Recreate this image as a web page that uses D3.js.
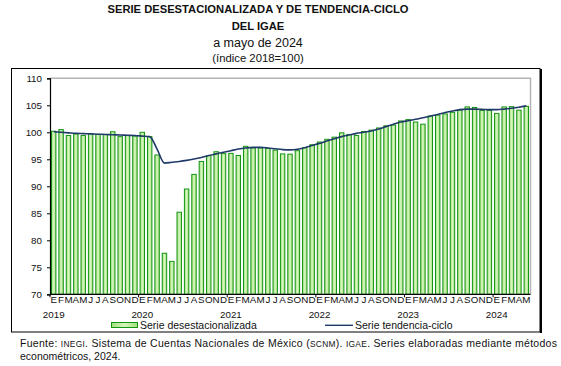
<!DOCTYPE html>
<html>
<head>
<meta charset="utf-8">
<script src="https://cdn.jsdelivr.net/npm/d3@7"></script>
<style>
  body { margin: 0; background: #fff; }
  svg { font-family: "Liberation Sans", Arial, sans-serif; }
</style>
</head>
<body>
<svg id="chart" width="561" height="366"></svg>
<script>
const monthLetters = ["E","F","M","A","M","J","J","A","S","O","N","D"];
const years = ["2019","2020","2021","2022","2023","2024"];

// serie desestacionalizada, ene 2019 - may 2024
const desest = [
  100.2, 100.5, 99.4, 99.7, 99.4, 99.75, 99.6, 99.6, 100.1, 99.2, 99.4, 99.3,
  100.0, 99.2, 95.8, 77.6, 76.1, 85.2, 89.5, 92.2, 94.6, 95.7, 96.4, 96.05,
  96.1, 95.7, 97.4, 97.1, 97.1, 97.0, 96.7, 96.0, 95.95, 96.6, 97.15, 97.7,
  98.2, 98.7, 99.1, 99.9, 99.6, 99.4, 100.15, 100.4, 100.8, 101.2, 101.35, 102.1,
  102.35, 101.9, 101.5, 103.0, 103.2, 103.4, 103.7, 104.1, 104.7, 104.6, 104.05, 104.05,
  103.5, 104.7, 104.75, 104.1, 104.8
];

// serie tendencia-ciclo
const tendencia = [
  100.1, 100.0, 99.9, 99.8, 99.75, 99.7, 99.65, 99.6, 99.55, 99.5, 99.45, 99.4,
  99.3, 99.2, 96.9, 94.3, 94.45, 94.6, 94.8, 95.05, 95.35, 95.7, 96.0, 96.3,
  96.6, 96.9, 97.1, 97.2, 97.2, 97.1, 96.95, 96.8, 96.75, 96.85, 97.15, 97.55,
  97.95, 98.4, 98.8, 99.2, 99.5, 99.8, 100.0, 100.25, 100.6, 101.05, 101.5, 101.9,
  102.15, 102.4, 102.7, 103.0, 103.3, 103.65, 103.95, 104.2, 104.3, 104.3, 104.25, 104.2,
  104.2, 104.3, 104.45, 104.65, 104.9
];

const yTicks = [70, 75, 80, 85, 90, 95, 100, 105, 110];

const svg = d3.select('#chart');
const idx = d3.range(desest.length);

const x = d3.scaleBand()
      .domain(idx)
      .range([50, 530])
      .paddingInner(0.4)
      .paddingOuter(0.2);
const step = x.step();
const y = d3.scaleLinear().domain([70, 110]).range([294.3, 78.3]);

const defs = svg.append('defs');
const grad = defs.append('linearGradient').attr('id', 'barfill')
      .attr('x1', '0%').attr('x2', '100%').attr('y1', '0%').attr('y2', '0%');
grad.append('stop').attr('offset', '0%').attr('stop-color', '#9fe07c');
grad.append('stop').attr('offset', '50%').attr('stop-color', '#d6f6bf');
grad.append('stop').attr('offset', '100%').attr('stop-color', '#9fe07c');

// titles
const titles = [
  {t: "SERIE DESESTACIONALIZADA Y DE TENDENCIA-CICLO", y: 13.3, s: 11.2, w: "bold"},
  {t: "DEL IGAE", y: 30, s: 11.2, w: "bold"},
  {t: "a mayo de 2024", y: 46.7, s: 12.5, w: "normal"},
  {t: "(índice 2018=100)", y: 61.5, s: 11.3, w: "normal"}
];
svg.selectAll('text.title')
  .data(titles)
  .enter().append('text')
  .attr('class', 'title')
  .attr('x', 258)
  .attr('y', d => d.y)
  .attr('text-anchor', 'middle')
  .attr('font-size', d => d.s)
  .attr('font-weight', d => d.w)
  .attr('fill', '#111')
  .text(d => d.t);

// outer frame
svg.append('rect')
  .attr('x', 11.5).attr('y', 68.5)
  .attr('width', 528.5).attr('height', 263.5)
  .attr('fill', 'none').attr('stroke', '#000').attr('stroke-width', 1);
svg.append('line')
  .attr('x1', 541).attr('x2', 541).attr('y1', 69).attr('y2', 333)
  .attr('stroke', '#000').attr('stroke-width', 2);

// plot frame (gray top/right)
svg.append('path')
  .attr('d', `M50,${y(110)}H530.5V${y(70)}`)
  .attr('fill', 'none').attr('stroke', '#b4b4b4').attr('stroke-width', 1.5);

// bars
svg.selectAll('rect.bar')
  .data(desest)
  .enter().append('rect')
  .attr('class', 'bar')
  .attr('x', (d, i) => x(i))
  .attr('width', x.bandwidth())
  .attr('y', d => y(d))
  .attr('height', d => y(70) - y(d))
  .attr('fill', 'url(#barfill)')
  .attr('stroke', '#139413')
  .attr('stroke-width', 1);

// trend line
const line = d3.line()
  .x((d, i) => x(i) + x.bandwidth() / 2)
  .y(d => y(d))
  .curve(d3.curveMonotoneX);
svg.append('path')
  .datum(tendencia)
  .attr('d', line)
  .attr('fill', 'none')
  .attr('stroke', '#1f3a68')
  .attr('stroke-width', 1.6);

// y axis
const yAxis = d3.axisLeft(y).tickValues(yTicks).tickSize(3).tickPadding(5);
const gy = svg.append('g').attr('transform', 'translate(50,0)').call(yAxis);
gy.select('.domain').attr('stroke', '#000').attr('stroke-width', 1.2);
gy.selectAll('line').attr('stroke', '#000');
gy.selectAll('text').attr('font-size', 9.8).attr('fill', '#111')
  .attr('font-family', '"Liberation Sans", Arial, sans-serif');

// x axis line + year ticks
svg.append('line')
  .attr('x1', 50).attr('x2', 530.5).attr('y1', y(70)).attr('y2', y(70))
  .attr('stroke', '#000').attr('stroke-width', 1.2);
svg.selectAll('line.ytick')
  .data(years)
  .enter().append('line')
  .attr('class', 'ytick')
  .attr('x1', (d, k) => 50 + k * 12 * step)
  .attr('x2', (d, k) => 50 + k * 12 * step)
  .attr('y1', y(70)).attr('y2', y(70) + 3)
  .attr('stroke', '#000');

// month letters
svg.selectAll('text.month')
  .data(idx)
  .enter().append('text')
  .attr('class', 'month')
  .attr('x', i => x(i) + x.bandwidth() / 2)
  .attr('y', 302.5)
  .attr('text-anchor', 'middle')
  .attr('font-size', 9.8)
  .attr('fill', '#111')
  .text(i => monthLetters[i % 12]);

// year labels
svg.selectAll('text.year')
  .data(years)
  .enter().append('text')
  .attr('class', 'year')
  .attr('x', (d, k) => x(k * 12) + x.bandwidth() / 2)
  .attr('y', 317.7)
  .attr('text-anchor', 'middle')
  .attr('font-size', 9.8)
  .attr('fill', '#111')
  .text(d => d);

// legend
svg.append('rect')
  .attr('x', 111.5).attr('y', 322.5).attr('width', 26).attr('height', 5)
  .attr('fill', 'url(#barfill)').attr('stroke', '#139413');
svg.append('text')
  .attr('x', 140).attr('y', 328.5)
  .attr('font-size', 10.5).attr('fill', '#111')
  .text('Serie desestacionalizada');
svg.append('line')
  .attr('x1', 325).attr('x2', 353).attr('y1', 325.3).attr('y2', 325.3)
  .attr('stroke', '#1f3a68').attr('stroke-width', 1.4);
svg.append('text')
  .attr('x', 355).attr('y', 328.5)
  .attr('font-size', 10.5).attr('fill', '#111')
  .text('Serie tendencia-ciclo');

// footer
const f1 = svg.append('text')
  .attr('x', 20).attr('y', 346.5)
  .attr('font-size', 10.5).attr('fill', '#111')
  .attr('textLength', 537).attr('lengthAdjust', 'spacing');
const parts = [
  ["Fuente: ", 10.5], ["INEGI", 8.4], [". Sistema de Cuentas Nacionales de México (", 10.5],
  ["SCNM", 8.4], ["). ", 10.5], ["IGAE", 8.4], [". Series elaboradas mediante métodos", 10.5]
];
f1.selectAll('tspan').data(parts).enter().append('tspan')
  .attr('font-size', d => d[1])
  .text(d => d[0]);
svg.append('text')
  .attr('x', 20).attr('y', 359.5)
  .attr('font-size', 10.5).attr('fill', '#111')
  .text('econométricos, 2024.');
</script>
</body>
</html>
